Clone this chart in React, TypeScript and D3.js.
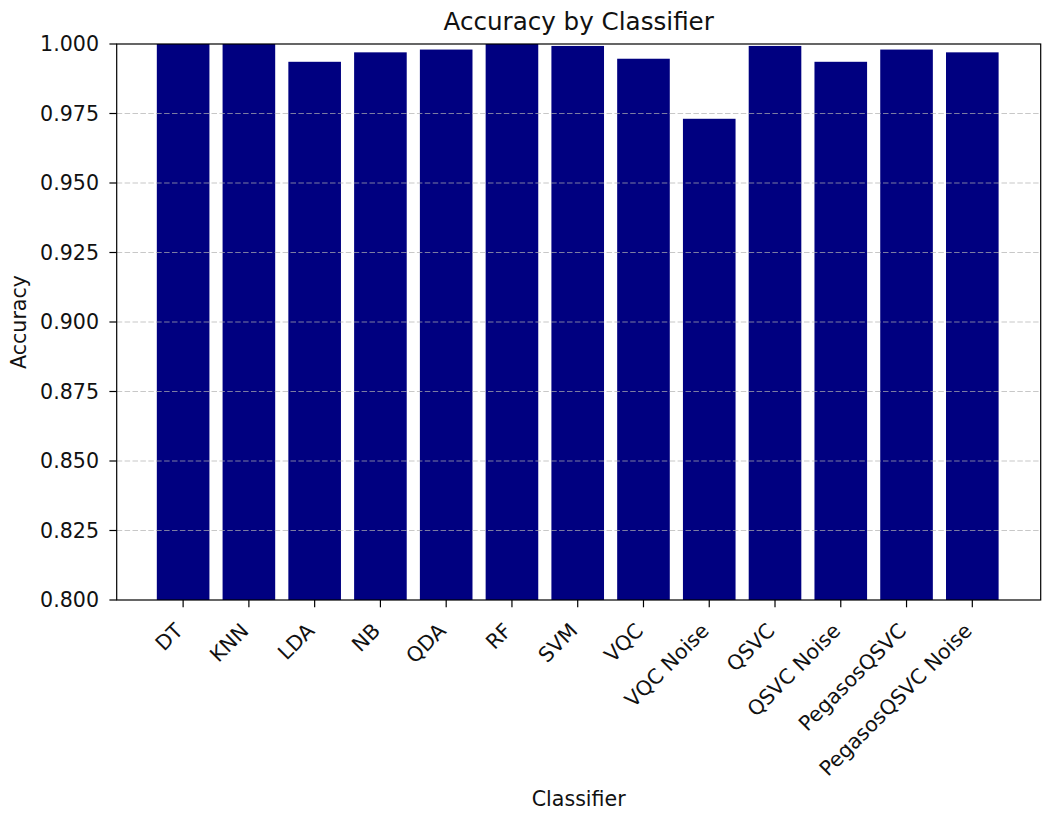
import { useRef, useEffect } from 'react';
import * as d3 from 'd3';

const classifiers = [
  'DT', 'KNN', 'LDA', 'NB', 'QDA', 'RF', 'SVM', 'VQC', 'VQC Noise',
  'QSVC', 'QSVC Noise', 'PegasosQSVC', 'PegasosQSVC Noise',
];
const accuracy = [
  1.0, 1.0, 0.9936, 0.997, 0.998, 1.0, 0.9993, 0.9947, 0.9731,
  0.9993, 0.9936, 0.998, 0.997,
];
const yTicks = [0.8, 0.825, 0.85, 0.875, 0.9, 0.925, 0.95, 0.975, 1.0];

export default function App() {
  const svgRef = useRef<SVGSVGElement>(null);

  useEffect(() => {
    if (!svgRef.current) return;
    const svg = d3.select(svgRef.current);
    svg.selectAll('*').remove();

    const width = 1051;
    const height = 815;
    const left = 116.7, right = 1040.7, top = 44, bottom = 600;
    const font = '"DejaVu Sans", sans-serif';
    const tickLen = 7.3;
    const ink = '#111';

    svg.attr('width', width).attr('height', height);
    svg.append('rect').attr('width', width).attr('height', height).attr('fill', '#fff');

    const xScale = d3.scaleLinear().domain([-1.01, 13.04]).range([left, right]);
    const step = xScale(1) - xScale(0);
    const barW = step * 0.8;
    const yScale = d3.scaleLinear().domain([0.8, 1.0]).range([bottom, top]);

    // Bars
    svg.append('g')
      .selectAll('rect')
      .data(accuracy)
      .join('rect')
      .attr('x', (_, i) => xScale(i) - barW / 2)
      .attr('y', (d) => yScale(d))
      .attr('width', barW)
      .attr('height', (d) => bottom - yScale(d))
      .attr('fill', '#000080');

    // Grid (drawn over bars)
    svg.append('g')
      .selectAll('line')
      .data(yTicks.slice(1, -1))
      .join('line')
      .attr('x1', left).attr('x2', right)
      .attr('y1', (d) => yScale(d)).attr('y2', (d) => yScale(d))
      .attr('stroke', '#b0b0b0').attr('stroke-opacity', 0.7)
      .attr('stroke-width', 1.1)
      .attr('stroke-dasharray', '5.5,2.4');

    // Spines
    svg.append('rect')
      .attr('x', left).attr('y', top)
      .attr('width', right - left).attr('height', bottom - top)
      .attr('fill', 'none').attr('stroke', '#000').attr('stroke-width', 1.2);

    // Y ticks
    const yg = svg.append('g');
    yg.selectAll('line')
      .data(yTicks)
      .join('line')
      .attr('x1', left - tickLen).attr('x2', left)
      .attr('y1', (d) => yScale(d)).attr('y2', (d) => yScale(d))
      .attr('stroke', '#000').attr('stroke-width', 1.2);
    yg.selectAll('text')
      .data(yTicks)
      .join('text')
      .attr('x', 99).attr('y', (d) => yScale(d))
      .attr('dy', '0.36em')
      .attr('text-anchor', 'end')
      .style('font-family', font).style('font-size', '20.6px').attr('fill', ink)
      .text((d) => d3.format('.3f')(d));

    // X ticks
    const xg = svg.append('g');
    xg.selectAll('line')
      .data(classifiers)
      .join('line')
      .attr('x1', (_, i) => xScale(i)).attr('x2', (_, i) => xScale(i))
      .attr('y1', bottom).attr('y2', bottom + tickLen)
      .attr('stroke', '#000').attr('stroke-width', 1.2);
    xg.selectAll('text')
      .data(classifiers)
      .join('text')
      .attr('transform', (_, i) => `translate(${xScale(i) + 1},632) rotate(-45)`)
      .attr('text-anchor', 'end')
      .style('font-family', font).style('font-size', '20.6px').attr('fill', ink)
      .text((d) => d);

    // Title and axis labels
    svg.append('text')
      .attr('x', (left + right) / 2).attr('y', 29.5)
      .attr('text-anchor', 'middle')
      .style('font-family', font).style('font-size', '24.6px').attr('fill', ink)
      .text('Accuracy by Classifier');
    svg.append('text')
      .attr('x', (left + right) / 2).attr('y', 806)
      .attr('text-anchor', 'middle')
      .style('font-family', font).style('font-size', '20.6px').attr('fill', ink)
      .text('Classifier');
    svg.append('text')
      .attr('transform', `translate(26,${(top + bottom) / 2}) rotate(-90)`)
      .attr('text-anchor', 'middle')
      .style('font-family', font).style('font-size', '20.6px').attr('fill', ink)
      .text('Accuracy');
  }, []);

  return (
    <svg ref={svgRef} style={{ position: 'absolute', left: 0, top: 0, display: 'block' }} />
  );
}
